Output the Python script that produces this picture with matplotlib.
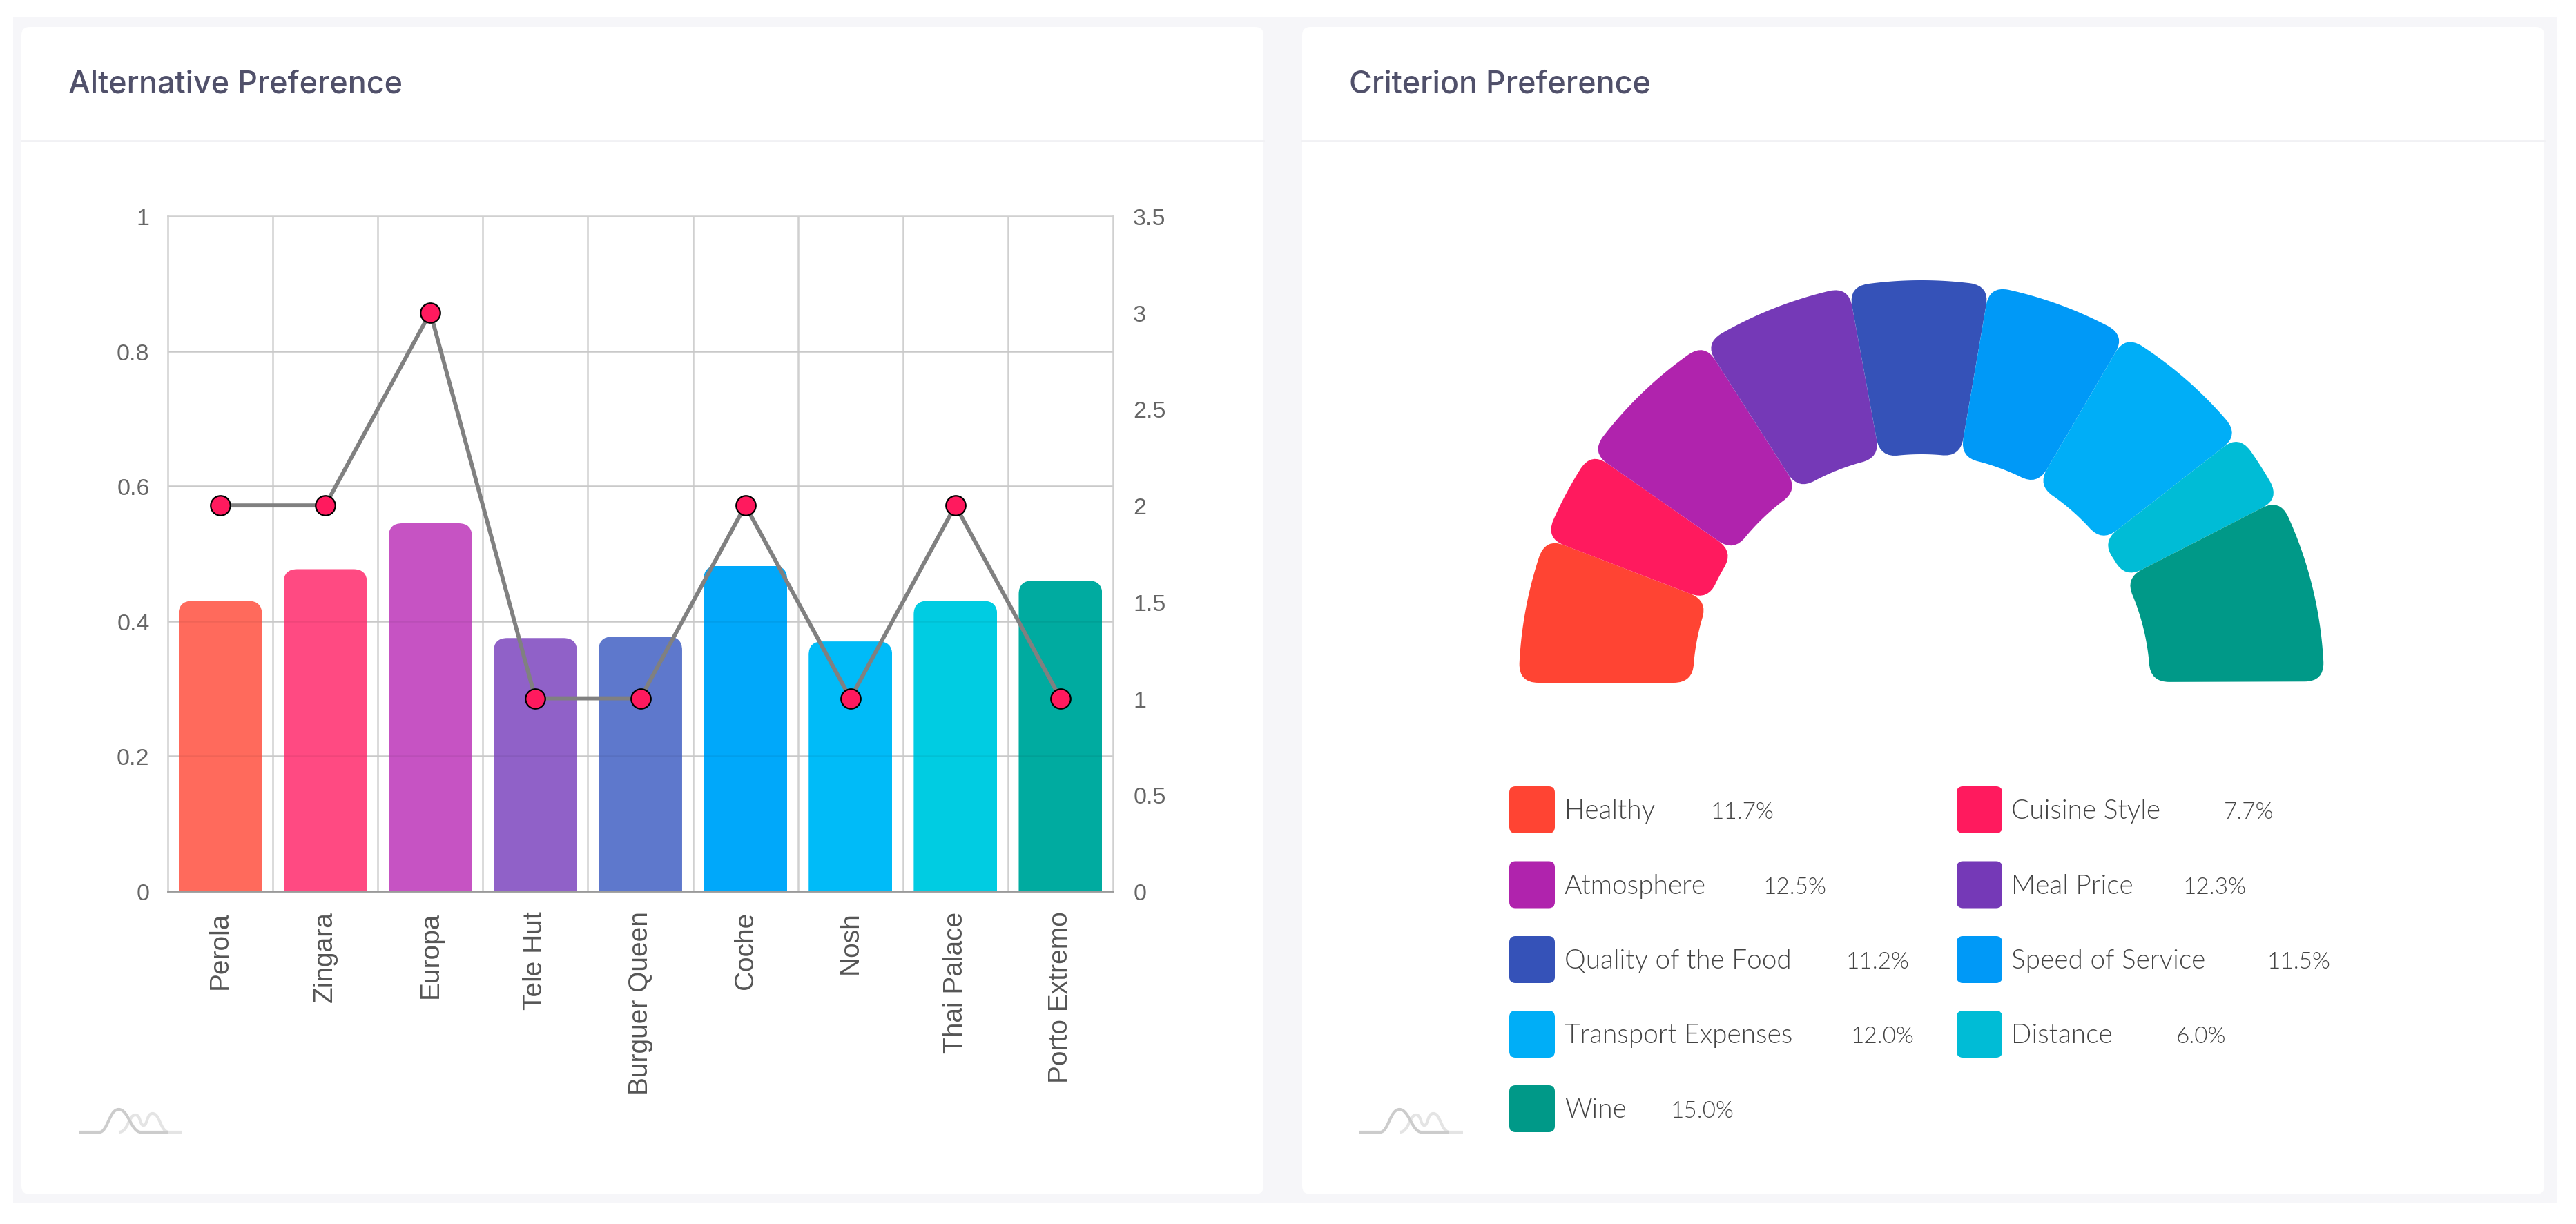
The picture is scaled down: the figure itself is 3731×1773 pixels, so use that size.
import numpy as np
import matplotlib
matplotlib.use('Agg')
import matplotlib.pyplot as plt
from matplotlib.path import Path
from matplotlib.patches import PathPatch, FancyBboxPatch, Rectangle

W, H = 3731, 1774

# left chart
alternatives = ['Perola', 'Zingara', 'Europa', 'Tele Hut', 'Burguer Queen', 'Coche', 'Nosh', 'Thai Palace', 'Porto Extremo']
preference = [0.43, 0.477, 0.545, 0.375, 0.377, 0.482, 0.37, 0.43, 0.46]
rank = [2, 2, 3, 1, 1, 2, 1, 2, 1]
bar_colors = ['#FF6A5C', '#FF4A82', '#C653C3', '#9061C8', '#5E78CC', '#00A8FA', '#00BBF8', '#00CCE2', '#00ABA0']
left_ticks = [0, 0.2, 0.4, 0.6, 0.8, 1]
left_labels = ['0', '0.2', '0.4', '0.6', '0.8', '1']
right_ticks = [0, 0.5, 1, 1.5, 2, 2.5, 3, 3.5]
right_labels = ['0', '0.5', '1', '1.5', '2', '2.5', '3', '3.5']

# right chart
criteria = ['Healthy', 'Cuisine Style', 'Atmosphere', 'Meal Price', 'Quality of the Food',
            'Speed of Service', 'Transport Expenses', 'Distance', 'Wine']
weights = [11.7, 7.7, 12.5, 12.3, 11.2, 11.5, 12.0, 6.0, 15.0]
slice_colors = ['#FF4433', '#FF1A5E', '#B023AD', '#7539B7', '#3552B8', '#0099F7', '#00AEF7', '#00BCD6', '#009988']

TITLE_FONT = ['Inter', 'DejaVu Sans']
BODY_FONT = ['Lato', 'DejaVu Sans']
AXIS_FONT = ['Liberation Sans', 'DejaVu Sans']


def px_to_fig(x0, y0, x1, y1):
    # pixel box (y going down) -> figure fractions for add_axes
    return [x0 / W, 1 - y1 / H, (x1 - x0) / W, (y1 - y0) / H]


def rounded_top(x0, x1, top, rx, ry):
    verts = [(x0, 0), (x0, top - ry), (x0, top), (x0 + rx, top),
             (x1 - rx, top), (x1, top), (x1, top - ry), (x1, 0), (x0, 0)]
    codes = [Path.MOVETO, Path.LINETO, Path.CURVE3, Path.CURVE3,
             Path.LINETO, Path.CURVE3, Path.CURVE3, Path.LINETO, Path.CLOSEPOLY]
    return Path(verts, codes)


def sector(a0, a1, r_in, r_out, c):
    # annular sector a0 > a1 (degrees), corners rounded with radius c
    def pt(r, a):
        t = np.radians(a)
        return (r * np.cos(t), r * np.sin(t))
    d_out = np.degrees(c / r_out)
    d_in = np.degrees(c / r_in)
    verts, codes = [], []
    verts.append(pt(r_out - c, a0)); codes.append(Path.MOVETO)
    verts += [pt(r_out, a0), pt(r_out, a0 - d_out)]; codes += [Path.CURVE3, Path.CURVE3]
    for a in np.linspace(a0 - d_out, a1 + d_out, 40)[1:]:
        verts.append(pt(r_out, a)); codes.append(Path.LINETO)
    verts += [pt(r_out, a1), pt(r_out - c, a1)]; codes += [Path.CURVE3, Path.CURVE3]
    verts.append(pt(r_in + c, a1)); codes.append(Path.LINETO)
    verts += [pt(r_in, a1), pt(r_in, a1 + d_in)]; codes += [Path.CURVE3, Path.CURVE3]
    for a in np.linspace(a1 + d_in, a0 - d_in, 40)[1:]:
        verts.append(pt(r_in, a)); codes.append(Path.LINETO)
    verts += [pt(r_in, a0), pt(r_in + c, a0)]; codes += [Path.CURVE3, Path.CURVE3]
    verts.append(pt(r_out - c, a0)); codes.append(Path.CLOSEPOLY)
    return Path(verts, codes)


fig = plt.figure(figsize=(W / 100, H / 100), dpi=100, facecolor='white')

# page background, cards, titles, logos and legend are on a pixel sized axes
bg = fig.add_axes([0, 0, 1, 1], zorder=0)
bg.set_xlim(0, W)
bg.set_ylim(H, 0)
bg.axis('off')
bg.add_patch(Rectangle((19, 26), 3684, 1718, fc='#F6F6F9', ec='none'))
C4 = Path.CURVE4
for x0, x1, title in [(31, 1830, 'Alternative Preference'), (1886, 3685, 'Criterion Preference')]:
    bg.add_patch(FancyBboxPatch((x0, 40), x1 - x0, 1691, boxstyle='round,pad=0,rounding_size=12', fc='white', ec='none'))
    bg.plot([x0, x1], [205, 205], color='#F1F1F4', lw=2)
    bg.text(x0 + 68, 134.5, title, fontsize=32.3, fontweight='medium', family=TITLE_FONT, color='#50506A', va='baseline')

    # little logo at the bottom of each card
    dark_pts = [(114, 1641), (144, 1641), (156, 1641), (158, 1608), (172, 1608),
                (186, 1608), (190, 1641), (204, 1641), (243, 1641)]
    dark_codes = [Path.MOVETO, Path.LINETO, C4, C4, C4, C4, C4, C4, Path.LINETO]
    light_pts = [(172, 1641), (186, 1641), (186, 1616), (196, 1616),
                 (204, 1616), (202, 1631), (208, 1631),
                 (214, 1631), (212, 1614), (221, 1614),
                 (232, 1614), (232, 1641), (245, 1641), (264, 1641)]
    light_codes = [Path.MOVETO, C4, C4, C4, C4, C4, C4, C4, C4, C4, C4, C4, C4, Path.LINETO]
    dx = x0 - 31
    bg.add_patch(PathPatch(Path([(a + dx, b) for a, b in light_pts], light_codes), fc='none', ec='#E4E4E4', lw=3))
    bg.add_patch(PathPatch(Path([(a + dx, b) for a, b in dark_pts], dark_codes), fc='none', ec='#CCCCCC', lw=3))

# bars + line
ax = fig.add_axes(px_to_fig(243, 314, 1612, 1292), zorder=2)
ax.patch.set_alpha(0)
x = np.arange(len(alternatives))
bars = ax.bar(x, preference, width=0.795, color=bar_colors, zorder=1)
for b, val in zip(bars, preference):
    b.set_clip_path(rounded_top(b.get_x(), b.get_x() + b.get_width(), val, 0.13, 0.02), ax.transData)
ax.set_xlim(-0.5, len(alternatives) - 0.5)
ax.set_ylim(0, 1)
ax.set_yticks(left_ticks)
ax.set_yticklabels(left_labels, family=AXIS_FONT, fontsize=24.5, color='#666666')
ax.set_xticks(x)
ax.set_xticklabels(alternatives, rotation=90, family=AXIS_FONT, fontsize=28, color='#555555')
ax.tick_params(axis='y', length=0, pad=19)
ax.tick_params(axis='x', length=0, pad=20.5)
ax.set_xticks(x[:-1] + 0.5, minor=True)
ax.tick_params(axis='x', which='minor', length=0)
ax.set_axisbelow(True)
ax.grid(axis='y', color='#D6D6D6', lw=1.8)
ax.grid(axis='x', which='minor', color='#D0D0D0', lw=1.8)
ax.grid(axis='x', which='major', visible=False)
# the bars are slightly see through, so the lines stay faintly visible
ax.hlines(left_ticks[1:-1], -0.5, len(alternatives) - 0.5, color='black', alpha=0.06, lw=1.8, zorder=2)
for side in ['left', 'top', 'right']:
    ax.spines[side].set_color('#D0D0D0')
    ax.spines[side].set_linewidth(1.8)
ax.spines['bottom'].set_color('#9A9A9A')
ax.spines['bottom'].set_linewidth(2)

ax2 = ax.twinx()
ax2.plot(x, rank, color='#808080', lw=4.2, marker='o', ms=20.5, mfc='#FF1A5E', mec='black', mew=1.6)
ax2.set_ylim(0, 3.5)
ax2.set_yticks(right_ticks)
ax2.set_yticklabels(right_labels, family=AXIS_FONT, fontsize=24.5, color='#666666')
ax2.tick_params(axis='y', length=0, pad=21)
for s in ax2.spines.values():
    s.set_visible(False)

# half doughnut, 100 % spans 180 degrees
R_OUT, R_IN = 583, 331
gauge = fig.add_axes(px_to_fig(2783 - 600, 990 - 600, 2783 + 600, 990), zorder=2)
gauge.set_xlim(-600, 600)
gauge.set_ylim(0, 600)
gauge.axis('off')
start = 180.0
for w, c in zip(weights, slice_colors):
    end = start - w * 1.8
    gauge.add_patch(PathPatch(sector(start, end, R_IN, R_OUT, 28), fc=c, ec='none'))
    start = end

# legend
col_x = [2186, 2834]
text_x = [2266, 2913]
row_y = [1174, 1282.5, 1391, 1499, 1607]
value_center = [2523, 3257, 2599, 3208, 2719, 3329, 2726, 3188, 2465]
for i, (name, w, c) in enumerate(zip(criteria, weights, slice_colors)):
    col = i % 2
    y = row_y[i // 2]
    bg.add_patch(FancyBboxPatch((col_x[col], y - 34), 66, 68, boxstyle='round,pad=0,rounding_size=9', fc=c, ec='none'))
    bg.text(text_x[col], y + 12.5, name, fontsize=28, fontweight=300, family=BODY_FONT, color='#444444', va='baseline')
    bg.text(value_center[i], y + 12.5, '%.1f%%' % w, fontsize=24, fontweight=300, family=BODY_FONT, color='#444444', va='baseline', ha='center')

fig.savefig('out.png', dpi=100, facecolor='white')
